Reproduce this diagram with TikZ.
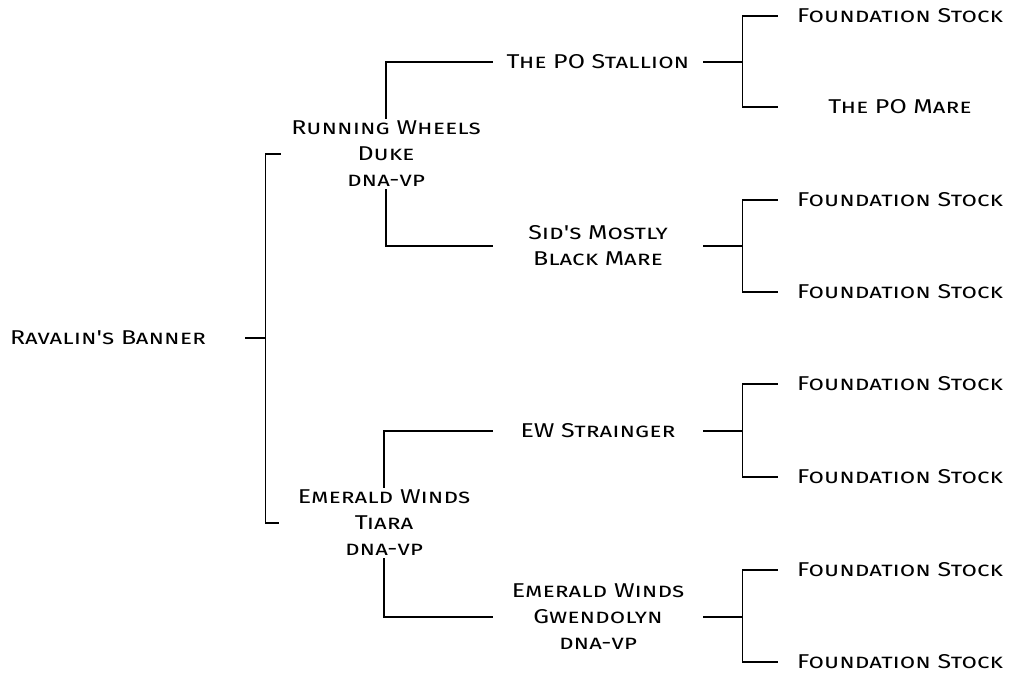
\documentclass[tikz,border=0pt]{standalone}
\usepackage{fontspec}
\newfontfamily\pedfont{Fira Sans}[Letters=SmallCaps,FakeStretch=1.25]
\usetikzlibrary{positioning,calc}
\tikzset{
  horse/.style={align=center, font=\pedfont\fontsize{20}{26}\selectfont, inner sep=2pt},
  root/.style={horse, minimum width=274pt},
  sire/.style={horse, minimum width=210pt},
  grand/.style={horse, minimum width=210pt},
  great/.style={horse, minimum width=244pt},
  link/.style={draw=black, line width=1.3pt}
}
\begin{document}
\begin{tikzpicture}[x=1pt,y=-1pt]
    \useasboundingbox (0,0) rectangle (1009,674);

    % horse
    \node[root] (rb) at (108,338) {Ravalin's Banner};

    % sire and dam
    \node[sire] (rw) at (386,154) {Running Wheels\\Duke\\dna-vp};
    \node[sire] (ewt) at (384,523) {Emerald Winds\\Tiara\\dna-vp};

    % grandparents
    \node[grand] (pos) at (598,62) {The PO Stallion};
    \node[grand] (sid) at (598,246) {Sid's Mostly\\Black Mare};
    \node[grand] (ews) at (598,431) {EW Strainger};
    \node[grand] (ewg) at (598,617) {Emerald Winds\\Gwendolyn\\dna-vp};

    % great-grandparents
    \node[great] (fs1) at (900,16) {Foundation Stock};
    \node[great] (pom) at (900,107) {The PO Mare};
    \node[great] (fs2) at (900,200) {Foundation Stock};
    \node[great] (fs3) at (900,292) {Foundation Stock};
    \node[great] (fs4) at (900,384) {Foundation Stock};
    \node[great] (fs5) at (900,477) {Foundation Stock};
    \node[great] (fs6) at (900,570) {Foundation Stock};
    \node[great] (fs7) at (900,662) {Foundation Stock};

    % root bracket
    \draw[link] (rb.east) -- ++(20,0) coordinate (rbj);
    \draw[link] (rw.west) -| (rbj) |- (ewt.west);

    % sire and dam brackets
    \draw[link] (pos.west) -| (rw.north);
    \draw[link] (sid.west) -| (rw.south);
    \draw[link] (ews.west) -| (ewt.north);
    \draw[link] (ewg.west) -| (ewt.south);

    % grandparent brackets
    \draw[link] (pos.east) -- ++(39,0) coordinate (posj);
    \draw[link] (fs1.west) -| (posj) |- (pom.west);
    \draw[link] (sid.east) -- ++(39,0) coordinate (sidj);
    \draw[link] (fs2.west) -| (sidj) |- (fs3.west);
    \draw[link] (ews.east) -- ++(39,0) coordinate (ewsj);
    \draw[link] (fs4.west) -| (ewsj) |- (fs5.west);
    \draw[link] (ewg.east) -- ++(39,0) coordinate (ewgj);
    \draw[link] (fs6.west) -| (ewgj) |- (fs7.west);
\end{tikzpicture}
\end{document}
